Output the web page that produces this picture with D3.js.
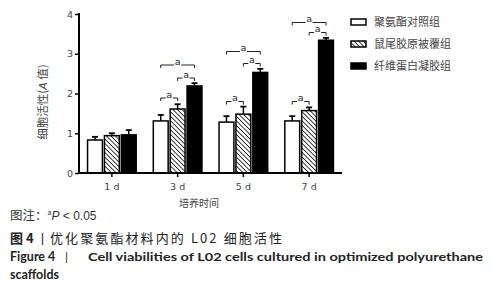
<!DOCTYPE html>
<html><head><meta charset="utf-8">
<script src="https://cdn.jsdelivr.net/npm/d3@7"></script>
<style>body{margin:0;background:#fff}svg{display:block}</style>
</head><body>
<svg id="c" width="493" height="298"></svg>
<script>
const days = ["1 d", "3 d", "5 d", "7 d"];
const groups = ["聚氨酯对照组", "鼠尾胶原被覆组", "纤维蛋白凝胶组"];
const means = [
  [0.83, 0.94, 0.96],
  [1.31, 1.61, 2.19],
  [1.28, 1.48, 2.53],
  [1.31, 1.57, 3.34]
];
const errs = [
  [0.08, 0.06, 0.12],
  [0.15, 0.12, 0.07],
  [0.15, 0.19, 0.09],
  [0.12, 0.08, 0.06]
];
// significance pairs per day: [from group, to group, level]
const sig = [
  [],
  [[0,1,0],[1,2,1],[0,2,2]],
  [[0,1,0],[1,2,1],[0,2,2]],
  [[0,1,0],[1,2,1],[0,2,2]]
];
const yTicks = [0,1,2,3,4];

const svg = d3.select("#c");
const cjk = "'Noto Sans CJK SC','Noto Sans',sans-serif";
const defs = svg.append("defs");
const pat = defs.append("pattern").attr("id","hatch").attr("patternUnits","userSpaceOnUse")
  .attr("width",3.2).attr("height",3.2).attr("patternTransform","rotate(-45)");
pat.append("rect").attr("width",3.2).attr("height",3.2).attr("fill","#fff");
pat.append("line").attr("x1",0).attr("y1",0).attr("x2",0).attr("y2",3.2).attr("stroke","#000").attr("stroke-width",1.5);

const x0 = d3.scaleBand().domain(days).range([79, 342]).paddingInner(0.26).paddingOuter(0.13);
const x1 = d3.scaleBand().domain(d3.range(3)).range([0, x0.bandwidth()]).paddingInner(0.12);
const y = d3.scaleLinear().domain([0,4]).range([173,14]);
const fills = ["#fff","url(#hatch)","#000"];

// bars
days.forEach((d,i)=>{
  const g = svg.append("g").attr("transform",`translate(${x0(d)},0)`);
  means[i].forEach((v,j)=>{
    const cx = x1(j)+x1.bandwidth()/2;
    g.append("line").attr("x1",cx).attr("x2",cx).attr("y1",y(v)).attr("y2",y(v+errs[i][j]))
      .attr("stroke","#000").attr("stroke-width",1.5);
    g.append("line").attr("x1",cx-3).attr("x2",cx+3).attr("y1",y(v+errs[i][j])).attr("y2",y(v+errs[i][j]))
      .attr("stroke","#000").attr("stroke-width",1.8);
    g.append("rect").attr("x",x1(j)).attr("width",x1.bandwidth())
      .attr("y",y(v)).attr("height",y(0)-y(v))
      .attr("fill",fills[j]).attr("stroke","#000").attr("stroke-width",1.5);
  });
  // brackets
  sig[i].forEach(([a,b,lev])=>{
    const xa = x1(a)+x1.bandwidth()/2, xb = x1(b)+x1.bandwidth()/2;
    let top;
    if (i===1) top = [98, 78, 65][lev];
    else if (i===2) top = [101.5, 63.5, 51.5][lev];
    else top = [101.5, 32.5, 22.5][lev];
    const mid = (xa+xb)/2;
    const gap = 3.5;
    g.append("path").attr("d",`M${xa},${top+3}V${top}H${mid-gap}M${mid+gap},${top}H${xb}V${top+3}`)
      .attr("fill","none").attr("stroke","#222").attr("stroke-width",1);
    g.append("text").attr("x",mid).attr("y",top-0.5).attr("text-anchor","middle")
      .attr("font-family","'DejaVu Sans',sans-serif").attr("font-size",9.5).attr("fill","#222").text("a");
  });
});

// axes
const ya = svg.append("g").attr("transform","translate(79,0)")
  .call(d3.axisLeft(y).tickValues(yTicks).tickSize(4).tickPadding(2).tickFormat(d3.format("d")));
ya.select(".domain").attr("stroke-width",2).attr("d","M0,13V173");
ya.selectAll(".tick line").attr("stroke-width",1.5);
ya.selectAll("text").attr("font-family","'DejaVu Sans',sans-serif").attr("font-size",9.5).attr("fill","#444");

const xa = svg.append("g").attr("transform","translate(0,173)")
  .call(d3.axisBottom(x0).tickSize(4).tickPadding(6));
xa.select(".domain").attr("stroke-width",2).attr("d","M78,0H342");
xa.selectAll(".tick line").attr("stroke-width",1.5);
xa.selectAll("text").attr("font-family","'DejaVu Sans',sans-serif").attr("font-size",9.5).attr("fill","#444");

// axis titles
const yl = svg.append("text").attr("transform","translate(47,102) rotate(-90)").attr("text-anchor","middle")
  .attr("font-family",cjk).attr("font-size",11.5).attr("fill","#444");
yl.append("tspan").text("细胞活性(");
yl.append("tspan").attr("font-style","italic").attr("font-family","'Liberation Sans',sans-serif").text("A");
yl.append("tspan").text(" 值)");
svg.append("text").attr("x",199).attr("y",207).attr("text-anchor","middle")
  .attr("font-family",cjk).attr("font-size",10).attr("fill","#444").text("培养时间");

// legend
groups.forEach((gname,j)=>{
  const ly = 22 + j*22;
  svg.append("rect").attr("x",351).attr("y",ly-3).attr("width",15).attr("height",6)
    .attr("fill",fills[j]).attr("stroke","#000").attr("stroke-width",1.5);
  svg.append("text").attr("x",374).attr("y",ly+4).attr("font-family",cjk).attr("font-size",11)
    .attr("fill","#444").text(gname);
});

// captions
const c1 = svg.append("text").attr("x",10).attr("y",220).attr("font-family",cjk).attr("font-size",12.5).attr("fill","#333");
c1.append("tspan").text("图注：");
c1.append("tspan").attr("font-size",7).attr("dy",-5).text("a");
c1.append("tspan").attr("dy",5).attr("font-style","italic").attr("font-family","'Liberation Sans',sans-serif").attr("font-size",12).text("P");
c1.append("tspan").attr("font-family","'Liberation Sans',sans-serif").attr("font-size",12).text(" < 0.05");

svg.append("text").attr("x",10).attr("y",243).attr("font-family",cjk).attr("font-size",13).attr("fill","#222").attr("font-weight","bold").text("图 4");
svg.append("text").attr("x",36).attr("y",243).attr("font-family",cjk).attr("font-size",13).attr("fill","#222").text("丨");
svg.append("text").attr("x",50).attr("y",243).attr("font-family",cjk).attr("font-size",13).attr("fill","#222")
  .attr("textLength",232).attr("lengthAdjust","spacing").text("优化聚氨酯材料内的 L02 细胞活性");

const ef = "Lato,'Open Sans',sans-serif";
svg.append("text").attr("x",10).attr("y",261).attr("font-family",ef).attr("font-size",12.5).attr("font-weight","bold").attr("fill","#222").text("Figure 4");
svg.append("text").attr("x",65).attr("y",261).attr("font-family",ef).attr("font-size",12).attr("fill","#222").text("|");
svg.append("text").attr("x",88).attr("y",261).attr("font-family",ef).attr("font-size",12).attr("font-weight","bold").attr("fill","#222")
  .attr("textLength",395).attr("lengthAdjust","spacingAndGlyphs").text("Cell viabilities of L02 cells cultured in optimized polyurethane");
svg.append("text").attr("x",10).attr("y",279).attr("font-family",ef).attr("font-size",12.5).attr("font-weight","bold").attr("fill","#222").text("scaffolds");
</script>
</body></html>
